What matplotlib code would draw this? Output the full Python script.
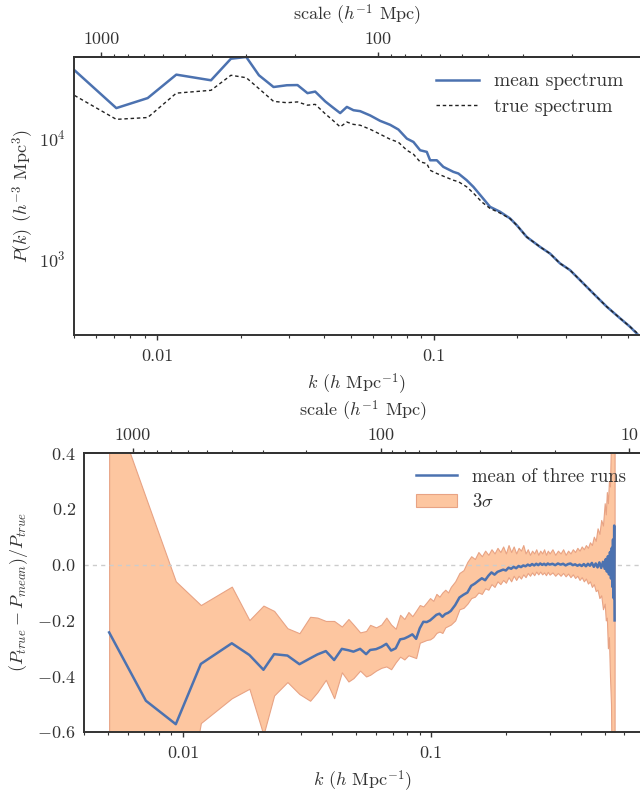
import numpy as np
import matplotlib
matplotlib.use("Agg")
import matplotlib.pyplot as plt
from matplotlib.ticker import FixedLocator, FixedFormatter, NullFormatter
from matplotlib.patches import Patch
from matplotlib.lines import Line2D

# ---------------- data ----------------
k_top = [0.00502, 0.00711, 0.00923, 0.01171, 0.01563, 0.01845, 0.02096, 0.02329, 0.0263, 0.02939,
         0.0321, 0.03488, 0.03719, 0.04042, 0.04283, 0.04578, 0.0484, 0.05113, 0.05406, 0.05875,
         0.06383, 0.06937, 0.07431, 0.07972, 0.08421, 0.08903, 0.0941, 0.09674, 0.1023, 0.108,
         0.1174, 0.1224, 0.1312, 0.1387, 0.1487, 0.1593, 0.1731, 0.1881, 0.1989, 0.2161,
         0.2414, 0.2623, 0.2851, 0.3097, 0.3366, 0.3759, 0.4203, 0.4694, 0.5101, 0.5465]
p_mean = [36200, 17600, 21300, 33300, 29900, 45100, 46600, 32900, 26300, 27200,
          27300, 23400, 24100, 20000, 18000, 16000, 18000, 16900, 16600, 15300,
          13800, 12800, 11700, 9840, 9230, 7880, 7640, 6510, 6510, 5740,
          5220, 5060, 4450, 3920, 3240, 2680, 2440, 2150, 1890, 1510,
          1250, 1100, 912, 803, 664, 515, 400, 321, 273, 233]
p_true = [22400, 14200, 14700, 23400, 24700, 32900, 31400, 25500, 20000, 19500,
          19800, 18600, 18900, 15800, 14100, 12300, 13500, 12900, 12700, 11750,
          10700, 9720, 9180, 7880, 7310, 6310, 6120, 5380, 5060, 4810,
          4450, 4330, 3920, 3480, 2940, 2600, 2380, 2140, 1890, 1510,
          1250, 1100, 912, 803, 664, 515, 400, 321, 273, 238]

k_bot = [0.00505, 0.0071, 0.00937, 0.01182, 0.01575, 0.01854, 0.02112, 0.02332, 0.02638, 0.02949,
         0.03256, 0.03484, 0.03766, 0.04068, 0.04369, 0.04645, 0.04865, 0.05176, 0.05472, 0.0568,
         0.060, 0.063, 0.066, 0.069, 0.072, 0.075, 0.078, 0.081, 0.084, 0.087, 0.090,
         0.093, 0.096, 0.099, 0.102, 0.105, 0.108, 0.111, 0.114, 0.117, 0.120,
         0.125, 0.130, 0.135, 0.140, 0.145, 0.150, 0.155, 0.160, 0.165, 0.170, 0.175, 0.180,
         0.185, 0.190, 0.195, 0.200, 0.205, 0.210, 0.215, 0.220, 0.225, 0.230, 0.235, 0.240,
         0.245, 0.250, 0.255, 0.260, 0.265, 0.270, 0.275, 0.280, 0.285, 0.290, 0.295, 0.300,
         0.308, 0.316, 0.324, 0.332, 0.340, 0.348, 0.356, 0.364, 0.372, 0.380, 0.388, 0.396,
         0.404, 0.412, 0.420, 0.428, 0.436, 0.444, 0.452, 0.460, 0.468, 0.476, 0.484, 0.492, 0.500,
         0.505, 0.510, 0.515, 0.520, 0.525, 0.530, 0.534, 0.537, 0.540, 0.543, 0.546, 0.548]
ratio_mean = [-0.243, -0.488, -0.572, -0.356, -0.282, -0.324, -0.377, -0.321, -0.326, -0.357,
              -0.336, -0.322, -0.310, -0.342, -0.302, -0.307, -0.312, -0.302, -0.321, -0.306,
              -0.303, -0.295, -0.284, -0.308, -0.300, -0.268, -0.265, -0.258, -0.250, -0.266, -0.228,
              -0.205, -0.206, -0.200, -0.190, -0.180, -0.176, -0.187, -0.177, -0.173, -0.166,
              -0.145, -0.118, -0.108, -0.100, -0.076, -0.068, -0.058, -0.049, -0.056, -0.040, -0.028, -0.036,
              -0.026, -0.022, -0.018, -0.021, -0.011, -0.015, -0.008, -0.013, -0.005, -0.009, -0.003, -0.006,
              0.000, -0.004, 0.002, -0.003, 0.003, -0.002, 0.004, -0.001, 0.003, -0.002, 0.004, 0.000,
              0.003, -0.002, 0.004, 0.000, 0.003, -0.003, 0.002, 0.004, -0.002, 0.001, -0.004, 0.000,
              -0.005, 0.002, -0.006, 0.003, -0.004, 0.006, -0.008, 0.004, -0.010, 0.008, -0.012, 0.010, -0.015,
              0.020, -0.025, 0.030, -0.035, 0.045, -0.050, 0.060, -0.080, 0.090, -0.120, 0.140, -0.200]
band_hi = [0.61, 0.24, -0.06, -0.145, -0.079, -0.199, -0.147, -0.166, -0.228, -0.246,
           -0.187, -0.190, -0.202, -0.202, -0.222, -0.195, -0.215, -0.243, -0.238, -0.216,
           -0.225, -0.215, -0.190, -0.215, -0.230, -0.180, -0.195, -0.170, -0.185, -0.165, -0.145,
           -0.150, -0.135, -0.120, -0.130, -0.105, -0.115, -0.100, -0.090, -0.100, -0.080,
           -0.060, -0.030, -0.020, 0.010, 0.030, 0.020, 0.045, 0.030, 0.050, 0.035, 0.055, 0.040,
           0.060, 0.045, 0.065, 0.040, 0.070, 0.045, 0.065, 0.040, 0.060, 0.050, 0.070, 0.040,
           0.055, 0.035, 0.050, 0.040, 0.055, 0.035, 0.050, 0.040, 0.055, 0.035, 0.050, 0.040,
           0.055, 0.035, 0.050, 0.040, 0.055, 0.035, 0.050, 0.040, 0.055, 0.045, 0.060, 0.050,
           0.065, 0.055, 0.070, 0.060, 0.080, 0.070, 0.100, 0.085, 0.130, 0.110, 0.160, 0.140, 0.220,
           0.180, 0.260, 0.220, 0.300, 0.280, 0.450, 0.600, 0.800, 1.000, 0.900, 1.200, 1.000]
band_lo = [-1.10, -1.22, -1.08, -0.568, -0.479, -0.445, -0.610, -0.469, -0.421, -0.464,
           -0.488, -0.457, -0.413, -0.479, -0.386, -0.419, -0.407, -0.380, -0.401, -0.395,
           -0.380, -0.370, -0.365, -0.375, -0.350, -0.330, -0.340, -0.325, -0.330, -0.335, -0.280,
           -0.275, -0.270, -0.268, -0.260, -0.245, -0.240, -0.245, -0.225, -0.220, -0.215,
           -0.200, -0.160, -0.155, -0.140, -0.120, -0.115, -0.100, -0.105, -0.085, -0.090, -0.070, -0.080,
           -0.060, -0.070, -0.055, -0.065, -0.045, -0.060, -0.040, -0.055, -0.040, -0.050, -0.035, -0.045,
           -0.030, -0.040, -0.028, -0.038, -0.025, -0.035, -0.025, -0.035, -0.028, -0.038, -0.026, -0.036,
           -0.028, -0.040, -0.030, -0.040, -0.030, -0.042, -0.032, -0.045, -0.035, -0.048, -0.040, -0.055,
           -0.045, -0.060, -0.050, -0.068, -0.060, -0.080, -0.070, -0.095, -0.090, -0.120, -0.110, -0.160, -0.140,
           -0.200, -0.190, -0.300, -0.260, -0.400, -0.500, -0.800, -1.000, -1.200, -1.000, -1.400, -1.500]

top_kticks = [0.01, 0.1]
top_klabels = ["0.01", "0.1"]
scale_ticks_top = [1000, 100]
scale_ticks_bot = [1000, 100, 10]

# ---------------- style ----------------
plt.rcParams.update({
    "font.family": "serif",
    "font.serif": ["cmr10"],
    "mathtext.fontset": "cm",
    "axes.formatter.use_mathtext": True,
    "font.size": 13,
    "text.color": "#333333",
    "axes.labelcolor": "#333333",
    "xtick.color": "#333333",
    "ytick.color": "#333333",
    "axes.edgecolor": "#333333",
    "axes.linewidth": 1.4,
})

BLUE = "#4c72b0"
FILL = "#fdc6a0"
EDGE = "#e8a384"


def k2s(k):
    k = np.asarray(k, dtype=float)
    with np.errstate(divide="ignore", invalid="ignore"):
        return 2 * np.pi / k


fig = plt.figure(figsize=(6.4, 7.94), dpi=100)
W, H = 640.0, 794.0
ax1 = fig.add_axes([74 / W, 1 - 335 / H, (639 - 74) / W, (335 - 57) / H])
ax2 = fig.add_axes([84 / W, 1 - 732 / H, (641 - 84) / W, (732 - 453) / H])


def style_axis(ax, ticks, labels):
    ax.set_xscale("log")
    ax.xaxis.set_major_locator(FixedLocator(ticks))
    ax.xaxis.set_major_formatter(FixedFormatter(labels))
    ax.xaxis.set_minor_formatter(NullFormatter())
    ax.tick_params(axis="x", which="major", direction="out", length=3.5, width=1.0, pad=6)
    ax.tick_params(axis="x", which="minor", direction="out", length=2, width=0.8)
    ax.tick_params(axis="y", which="both", length=0, pad=6)
    ax.spines["right"].set_visible(False)
    ax.spines["top"].set_visible(True)


def add_scale_axis(ax, ticks):
    sec = ax.secondary_xaxis("top", functions=(k2s, k2s))
    sec.xaxis.set_major_locator(FixedLocator(ticks))
    sec.xaxis.set_major_formatter(FixedFormatter([str(t) for t in ticks]))
    sec.xaxis.set_minor_formatter(NullFormatter())
    sec.tick_params(axis="x", which="major", direction="out", length=3.5, width=1.0, pad=4)
    sec.tick_params(axis="x", which="minor", direction="out", length=2, width=0.8)
    sec.set_xlabel(r"scale ($h^{-1}$ Mpc)", labelpad=8)
    return sec


# ---------------- top panel ----------------
ax1.plot(k_top, p_mean, color=BLUE, lw=1.8, label="mean spectrum")
ax1.plot(k_top, p_true, color="#222222", lw=1.0, ls=(0, (2.5, 2)), label="true spectrum")
ax1.set_yscale("log")
ax1.set_xlim(0.005, 0.55)
ax1.set_ylim(233, 46600)
style_axis(ax1, top_kticks, top_klabels)
ax1.yaxis.set_minor_formatter(NullFormatter())
ax1.set_xlabel(r"$k$ ($h$ Mpc$^{-1}$)", labelpad=6)
ax1.set_ylabel(r"$P(k)$ ($h^{-3}$ Mpc$^3$)", labelpad=2)
add_scale_axis(ax1, scale_ticks_top)
ax1.legend(loc="upper right", frameon=False, handlelength=2.2, labelspacing=0.4,
           fontsize=14, borderaxespad=0.4)

# ---------------- bottom panel ----------------
ax2.fill_between(k_bot, band_lo, band_hi, facecolor=FILL, edgecolor=EDGE, lw=0.8, zorder=1)
ax2.axhline(0.0, color="#cccccc", lw=1.0, ls=(0, (3, 3)), zorder=1.5)
ax2.plot(k_bot, ratio_mean, color=BLUE, lw=1.8, zorder=2)
ax2.set_xlim(0.004, 0.70)
ax2.set_ylim(-0.6, 0.4)
style_axis(ax2, top_kticks, top_klabels)
ax2.set_yticks([-0.6, -0.4, -0.2, 0.0, 0.2, 0.4])
ax2.set_xlabel(r"$k$ ($h$ Mpc$^{-1}$)", labelpad=6)
ax2.set_ylabel(r"$(P_{true} - P_{mean})/P_{true}$", labelpad=5)
add_scale_axis(ax2, scale_ticks_bot)
handles = [Line2D([], [], color=BLUE, lw=1.8),
           Patch(facecolor=FILL, edgecolor=EDGE, lw=0.8)]
ax2.legend(handles, ["mean of three runs", r"$3\sigma$"], loc="upper right",
           frameon=False, handlelength=2.2, labelspacing=0.4, fontsize=13.5, borderaxespad=0.4)

fig.savefig("out.png", dpi=100)
